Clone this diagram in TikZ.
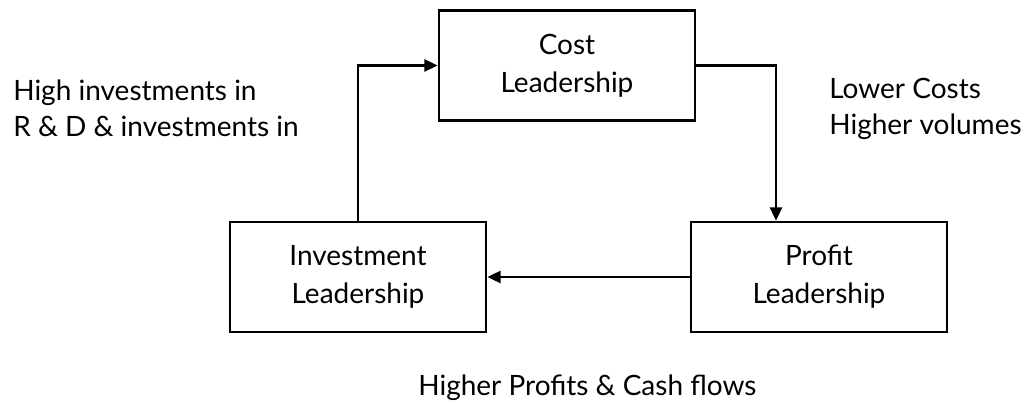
\documentclass[tikz,border=0pt]{standalone}
\usepackage{fontspec}
\setmainfont{Lato}
\usetikzlibrary{arrows.meta}

\tikzset{every picture/.style={line width=2pt}}
\tikzset{
	box/.style={draw, minimum width=192pt, minimum height=82.5pt, inner sep=0pt, align=center, font=\fontsize{21}{28.5}\selectfont},
	lbl/.style={inner sep=0pt, align=left, anchor=base west, font=\fontsize{21}{27}\selectfont},
	arr/.style={-{Triangle[length=10pt,width=9pt]}}
}

\begin{document}
\begin{tikzpicture}[x=0.75pt,y=0.75pt,yscale=-1,xscale=1]
	\useasboundingbox (0,0) rectangle (1032,406);

	% Boxes
	\node[box] (cost) at (567,65.5) {Cost\\Leadership};
	\node[box] (invest) at (358,277) {Investment\\Leadership};
	\node[box] (profit) at (819,277) {Profit\\Leadership};

	% Arrows
	\draw[arr] (invest.north) |- (cost.west);
	\draw[arr] (cost.east) -| ([xshift=-32.25pt]profit.north);
	\draw[arr] (profit.west) -- (invest.east);

	% Text Node
	\node[lbl] (rd) at (12,137) {High investments in\\R \& D \& investments in};
	% Text Node
	\node[lbl] (costs) at (828,135) {Lower Costs\\Higher volumes};
	% Text Node
	\node[lbl] (cash) at (417,395) {Higher Profits \& Cash flows};

\end{tikzpicture}
\end{document}
